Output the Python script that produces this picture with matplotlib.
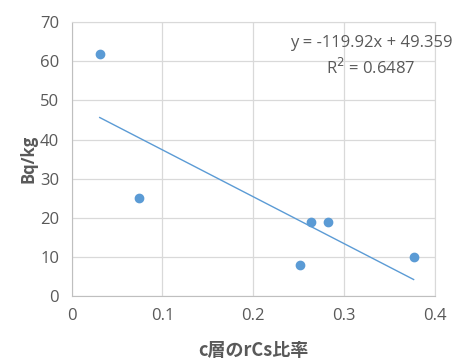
import matplotlib.pyplot as plt

plt.rcParams['font.family'] = ['Open Sans', 'Noto Sans CJK JP', 'DejaVu Sans']

# data
ratio = [0.031, 0.0745, 0.2515, 0.2635, 0.2822, 0.3766]
bq = [62, 25, 8, 19, 19, 10]
slope, intercept = -119.92, 49.359
r2 = 0.6487

grey = '#595959'
blue = '#5B9BD5'

fig = plt.figure(figsize=(4.53, 3.6), dpi=100)
ax = fig.add_axes([0.158, 0.178, 0.802, 0.760])

ax.scatter(ratio, bq, s=36, color=blue, zorder=3)
xs = [min(ratio), max(ratio)]
ax.plot(xs, [slope * x + intercept for x in xs], color=blue, lw=1.0, zorder=2)

ax.set_xlim(0, 0.4)
ax.set_ylim(0, 70)
ax.set_xticks([0, 0.1, 0.2, 0.3, 0.4])
ax.set_xticklabels(['0', '0.1', '0.2', '0.3', '0.4'])
ax.set_yticks(range(0, 71, 10))
ax.grid(True, color='#d9d9d9', lw=0.9)
ax.set_axisbelow(True)
for s in ax.spines.values():
    s.set_color('#d9d9d9')
ax.spines['left'].set_color('#bfbfbf')
ax.spines['bottom'].set_color('#bfbfbf')
ax.tick_params(length=0, labelsize=12, colors=grey, pad=9)

ax.set_ylabel('Bq/kg', fontsize=12, fontweight='bold', color=grey, labelpad=2)
ax.set_xlabel('c層のrCs比率', fontsize=13, fontweight='bold', color=grey,
              labelpad=12, family=['Noto Sans CJK JP', 'DejaVu Sans'])

fig.text(0.998, 0.880, f'y = {slope}x + {intercept}', ha='right', va='center',
         fontsize=12, color=grey)
fig.text(0.818, 0.812, f'R$^2$ = {r2}', ha='center', va='center',
         fontsize=12, color=grey)

fig.savefig('out.png', dpi=100)
